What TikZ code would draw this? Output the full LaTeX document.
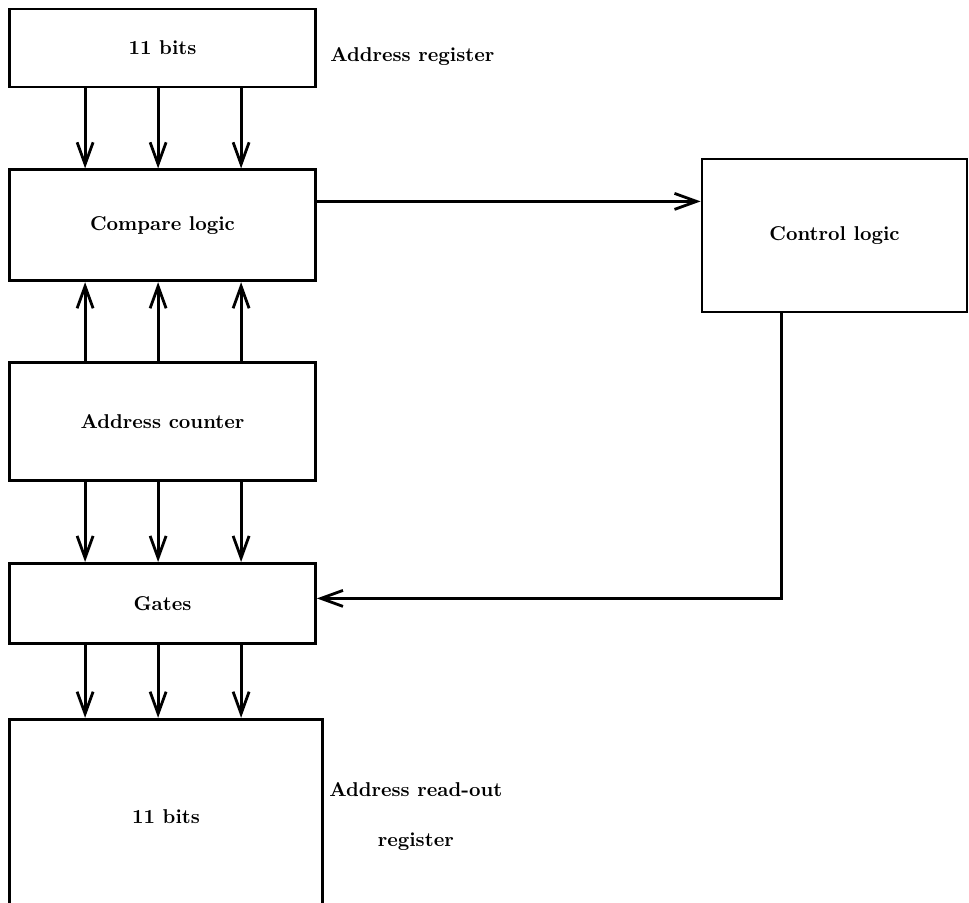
\documentclass[tikz,border=0pt]{standalone}
\usepackage{tikz}
\usetikzlibrary{arrows.meta,positioning,calc}
\tikzset{
  blk/.style={draw,rectangle,line width=1.4pt,minimum width=153pt,align=center,font=\bfseries,inner sep=0pt},
  regblk/.style={blk,minimum height=39pt},
  cmpblk/.style={blk,minimum height=55.5pt},
  ctrblk/.style={blk,minimum height=59pt},
  gateblk/.style={blk,minimum height=40pt},
  outblk/.style={blk,minimum width=156.5pt,minimum height=97.5pt},
  ctlblk/.style={blk,minimum width=132.5pt,minimum height=76.5pt},
  arr/.style={-{Straight Barb[length=11pt,width=8pt,line width=1.4pt]},line width=1.4pt},
  lbl/.style={font=\bfseries,align=center,inner sep=0pt}
}
\begin{document}
\begin{tikzpicture}[node distance=40pt]
  \useasboundingbox (0,0) rectangle (484.5pt,-451.5pt);
  \node[regblk] (areg) at (81.25pt,-24pt) {11 bits};
  \node[cmpblk, below=40pt of areg] (cmp) {Compare logic};
  \node[ctrblk, below=39.5pt of cmp] (ctr) {Address counter};
  \node[gateblk, below=of ctr] (gates) {Gates};
  \node[outblk, below right=36.5pt and 0pt of gates.south west, anchor=north west] (oreg) {11 bits};
  \node[ctlblk] (ctl) at (417.25pt,-117.75pt) {Control logic};

  \node[lbl, anchor=west, right=6.5pt of areg.east, yshift=-4.5pt] (aregl) {Address register};
  \node[lbl, anchor=west, right=2.5pt of oreg.east] (oregl) {Address read-out\\[13pt]register};

  \foreach \dx in {38.5,75,116.5} {
    \draw[arr] ([xshift=\dx pt]areg.south west) -- ([xshift=\dx pt]cmp.north west);
    \draw[arr] ([xshift=\dx pt]ctr.north west) -- ([xshift=\dx pt]cmp.south west);
    \draw[arr] ([xshift=\dx pt]ctr.south west) -- ([xshift=\dx pt]gates.north west);
    \draw[arr] ([xshift=\dx pt]gates.south west) -- ([xshift=\dx pt]oreg.north west);
  }
  \draw[arr] ([yshift=-16.5pt]cmp.north east) -- ([yshift=-16.5pt]cmp.north east -| ctl.west);
  \draw[arr] ([xshift=40.5pt]ctl.south west) |- ([yshift=2.5pt]gates.east);
\end{tikzpicture}
\end{document}
